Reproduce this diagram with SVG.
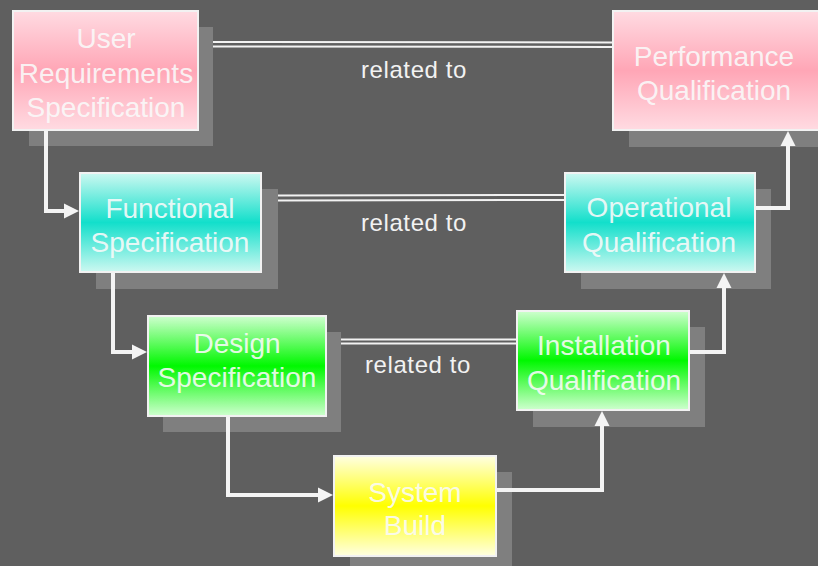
<svg xmlns="http://www.w3.org/2000/svg" width="818" height="566" viewBox="0 0 818 566">
  <defs>
    <linearGradient id="gPink" x1="0" y1="0" x2="0" y2="1">
      <stop offset="0" stop-color="#ffdbe2"/>
      <stop offset="0.5" stop-color="#ffa6b6"/>
      <stop offset="1" stop-color="#ffdbe2"/>
    </linearGradient>
    <linearGradient id="gCyan" x1="0" y1="0" x2="0" y2="1">
      <stop offset="0" stop-color="#cdf8f1"/>
      <stop offset="0.5" stop-color="#12dfcb"/>
      <stop offset="1" stop-color="#cdf8f1"/>
    </linearGradient>
    <linearGradient id="gGreen" x1="0" y1="0" x2="0" y2="1">
      <stop offset="0" stop-color="#cfffcf"/>
      <stop offset="0.5" stop-color="#00f800"/>
      <stop offset="1" stop-color="#cfffcf"/>
    </linearGradient>
    <linearGradient id="gYellow" x1="0" y1="0" x2="0" y2="1">
      <stop offset="0" stop-color="#ffffe2"/>
      <stop offset="0.5" stop-color="#ffff00"/>
      <stop offset="1" stop-color="#ffffe2"/>
    </linearGradient>
    <marker id="arrow" markerUnits="userSpaceOnUse" markerWidth="16" markerHeight="16" viewBox="0 -8 16 16" refX="0" refY="0" orient="auto">
      <path d="M0,-7.5 L15,0 L0,7.5 z" fill="#f4f4f4"/>
    </marker>
    <style>
      .shadow { fill: #7f7f7f; }
      .box { stroke: #f2f2f2; stroke-width: 2; }
      .label { font-family: "Liberation Sans", Arial, sans-serif; font-size: 28px; fill: #fafafa; fill-opacity: 0.9; text-anchor: middle; }
      .rel { font-family: "Liberation Sans", Arial, sans-serif; font-size: 24px; fill: #f2f2f2; text-anchor: middle; letter-spacing: 0.6px; }
      .flow { fill: none; stroke: #f4f4f4; stroke-width: 4; marker-end: url(#arrow); }
      .dbl { fill: none; stroke: #f2f2f2; stroke-width: 2; }
    </style>
  </defs>

  <rect width="818" height="566" fill="#5f5f5f"/>

  <g id="urs">
    <rect class="shadow" x="29" y="27" width="184" height="119"/>
    <rect class="box" x="13" y="11" width="185" height="119" fill="url(#gPink)"/>
    <text class="label" x="106" y="48">User</text>
    <text class="label" x="106" y="83">Requirements</text>
    <text class="label" x="106" y="117">Specification</text>
  </g>

  <g id="pq">
    <rect class="shadow" x="629" y="27" width="200" height="120"/>
    <rect class="box" x="613" y="11" width="210" height="119" fill="url(#gPink)"/>
    <text class="label" x="714" y="66">Performance</text>
    <text class="label" x="714" y="100">Qualification</text>
  </g>

  <g id="fs">
    <rect class="shadow" x="96" y="189" width="182" height="100"/>
    <rect class="box" x="80" y="173" width="181" height="99" fill="url(#gCyan)"/>
    <text class="label" x="170" y="218">Functional</text>
    <text class="label" x="170" y="252">Specification</text>
  </g>

  <g id="oq">
    <rect class="shadow" x="581" y="189" width="190" height="100"/>
    <rect class="box" x="565" y="173" width="190" height="99" fill="url(#gCyan)"/>
    <text class="label" x="659" y="217">Operational</text>
    <text class="label" x="659" y="252">Qualification</text>
  </g>

  <g id="ds">
    <rect class="shadow" x="163" y="332" width="178" height="100"/>
    <rect class="box" x="148" y="316" width="178" height="100" fill="url(#gGreen)"/>
    <text class="label" x="237" y="353">Design</text>
    <text class="label" x="237" y="387">Specification</text>
  </g>

  <g id="iq">
    <rect class="shadow" x="533" y="327" width="172" height="100"/>
    <rect class="box" x="517" y="311" width="172" height="99" fill="url(#gGreen)"/>
    <text class="label" x="604" y="355">Installation</text>
    <text class="label" x="604" y="390">Qualification</text>
  </g>

  <g id="sb">
    <rect class="shadow" x="350" y="472" width="162" height="100"/>
    <rect class="box" x="334" y="456" width="162" height="100" fill="url(#gYellow)"/>
    <text class="label" x="415" y="502">System</text>
    <text class="label" x="415" y="535">Build</text>
  </g>

  <g id="connectors">
    <!-- development flow down the left leg -->
    <path class="flow" d="M46,131 V211 H64"/>
    <path class="flow" d="M113,273 V352 H132"/>
    <path class="flow" d="M228,417 V495 H318"/>
    <!-- verification flow up the right leg -->
    <path class="flow" d="M497,490 H602 V426"/>
    <path class="flow" d="M690,352 H724 V288"/>
    <path class="flow" d="M756,208 H788 V146"/>
    <!-- "related to" double links -->
    <path class="dbl" d="M213,42 L612,42.5 M213,46.5 L612,47"/>
    <path class="dbl" d="M278,195.5 L564,195 M278,200.5 L564,200"/>
    <path class="dbl" d="M341,339.5 L516,339.5 M341,343.5 L516,343.5"/>
    <text class="rel" x="414" y="78">related to</text>
    <text class="rel" x="414" y="231">related to</text>
    <text class="rel" x="418" y="373">related to</text>
  </g>
</svg>
